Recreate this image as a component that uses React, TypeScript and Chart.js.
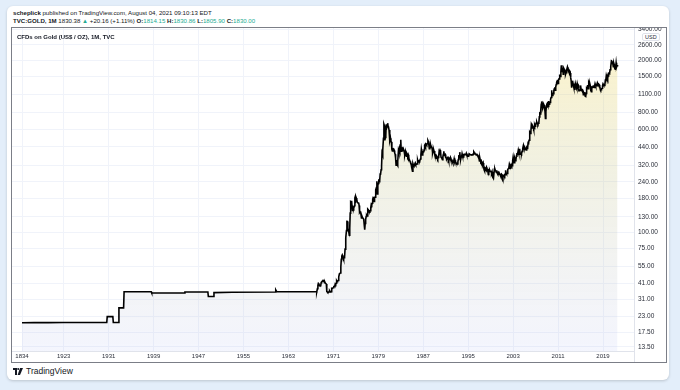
import React, { useEffect, useRef } from 'react';
import { Chart, registerables } from 'chart.js';

Chart.register(...registerables);

const FONT = '"Liberation Sans", Arial, sans-serif';

// ---- tick labels ----
const yearTickLabels = ['1834', '1923', '1931', '1939', '1947', '1955', '1963', '1971', '1979', '1987', '1995', '2003', '2011', '2019'];
const priceTicks = [13.5, 17.5, 23, 31, 41, 55, 75, 100, 130, 180, 240, 320, 440, 600, 800, 1100, 1500, 2000, 2600, 3400];

// ---- annual bars (1834-1922) ----
const annualYears = [1834, 1860, 1890, 1922];
const annualPrices = [20.6, 20.62, 20.65, 20.67];

// ---- sparse monthly bars (1923-1967) ----
const earlyMonths = [
  '1923-01', '1930-09', '1930-10', '1931-10', '1931-11', '1932-10', '1932-11', '1933-09', '1933-10',
  '1938-08', '1938-09', '1944-07', '1944-08', '1948-09', '1948-10', '1949-09', '1949-10', '1953-01',
  '1960-09', '1960-10', '1960-12', '1967-12',
];
const earlyPrices = [
  20.67, 20.67, 22.9, 22.9, 20.67, 20.67, 26.7, 26.7, 35.3,
  35.3, 34.6, 34.6, 35.2, 35.2, 32.5, 32.5, 34.8, 35.0,
  35.2, 36.5, 35.4, 35.3,
];

// ---- monthly closes 1968-01 .. 2021-08 ----
const monthlyFromYear = 1968;
const monthlyCloses = [
  35.2, 35.2, 37.3, 39.5, 41.0, 40.9, 39.4, 39.2, 39.2, 39.3, 41.4, 41.9, // 1968
  42.4, 42.6, 43.2, 43.3, 43.2, 41.3, 41.8, 41.0, 40.8, 40.4, 35.4, 35.2, // 1969
  34.9, 35.0, 35.1, 35.6, 35.9, 35.4, 35.3, 35.4, 36.2, 37.5, 37.4, 37.4, // 1970
  38.0, 38.7, 38.9, 39.0, 40.5, 40.1, 41.0, 42.7, 42.0, 42.5, 43.0, 43.6, // 1971
  45.8, 48.3, 48.3, 49.0, 54.6, 62.1, 65.7, 67.0, 65.5, 64.9, 62.9, 63.9, // 1972
  65.1, 74.2, 84.3, 90.5, 102.5, 120.1, 120.0, 106.8, 103.0, 100.1, 94.8, 106.7, // 1973
  139, 170, 169, 172, 155, 144, 154, 155, 151, 158, 181, 186, // 1974
  175, 181, 177, 168, 167, 166, 167, 159, 141, 143, 139, 140, // 1975
  128, 132, 129, 128, 126, 124, 113, 104, 116, 124, 131, 134, // 1976
  132, 142, 149, 147, 144, 141, 145, 145, 154, 162, 160, 165, // 1977
  176, 182, 181, 170, 183, 183, 200, 208, 217, 242, 194, 226, // 1978
  233, 251, 240, 245, 275, 277, 296, 315, 397, 382, 415, 512, // 1979
  653, 637, 494, 518, 535, 653, 614, 631, 666, 629, 619, 590, // 1980
  506, 489, 513, 482, 480, 422, 410, 426, 428, 427, 414, 397, // 1981
  387, 362, 320, 350, 325, 318, 342, 411, 397, 423, 410, 456, // 1982
  499, 408, 414, 430, 438, 412, 422, 414, 405, 382, 405, 382, // 1983
  374, 394, 388, 375, 384, 373, 347, 348, 341, 333, 329, 309, // 1984
  306, 288, 329, 321, 317, 317, 327, 333, 326, 325, 325, 327, // 1985
  350, 339, 345, 346, 343, 345, 357, 384, 423, 402, 383, 391, // 1986
  405, 406, 420, 454, 460, 448, 462, 454, 460, 466, 493, 484, // 1987
  458, 426, 457, 451, 452, 436, 437, 429, 397, 412, 422, 410, // 1988
  394, 387, 385, 377, 362, 373, 368, 359, 367, 375, 408, 401, // 1989
  415, 407, 368, 368, 363, 352, 372, 387, 408, 379, 384, 386, // 1990
  366, 363, 355, 357, 367, 368, 362, 347, 354, 358, 366, 353, // 1991
  354, 353, 344, 336, 337, 343, 357, 340, 349, 339, 334, 333, // 1992
  329, 327, 339, 354, 377, 378, 402, 372, 355, 369, 370, 391, // 1993
  378, 381, 391, 376, 387, 387, 384, 385, 394, 383, 383, 383, // 1994
  375, 376, 391, 389, 385, 387, 383, 382, 383, 383, 387, 387, // 1995
  405, 400, 396, 392, 390, 382, 385, 386, 379, 379, 371, 369, // 1996
  345, 362, 348, 340, 345, 334, 326, 325, 332, 311, 296, 290, // 1997
  304, 297, 301, 309, 293, 296, 288, 273, 294, 292, 294, 288, // 1998
  287, 287, 279, 286, 268, 261, 255, 255, 299, 300, 292, 290, // 1999
  283, 293, 278, 274, 272, 288, 276, 277, 273, 264, 270, 274, // 2000
  265, 267, 258, 264, 267, 270, 266, 273, 293, 279, 275, 277, // 2001
  282, 297, 302, 308, 326, 318, 304, 312, 323, 317, 317, 347, // 2002
  368, 347, 334, 336, 361, 346, 354, 375, 388, 386, 398, 416, // 2003
  400, 397, 426, 388, 394, 395, 391, 407, 416, 428, 453, 438, // 2004
  422, 434, 427, 436, 417, 435, 429, 433, 473, 470, 495, 513, // 2005
  568, 556, 582, 654, 643, 613, 633, 623, 599, 604, 646, 632, // 2006
  650, 665, 662, 680, 657, 650, 665, 673, 743, 789, 783, 834, // 2007
  924, 972, 916, 865, 887, 928, 912, 832, 884, 724, 815, 882, // 2008
  928, 942, 917, 891, 978, 926, 954, 955, 1008, 1040, 1182, 1096, // 2009
  1081, 1116, 1112, 1179, 1212, 1244, 1181, 1248, 1307, 1358, 1386, 1421, // 2010
  1332, 1411, 1439, 1556, 1536, 1502, 1628, 1826, 1620, 1715, 1746, 1565, // 2011
  1737, 1710, 1669, 1664, 1561, 1604, 1622, 1692, 1772, 1719, 1712, 1676, // 2012
  1663, 1578, 1596, 1472, 1394, 1234, 1313, 1395, 1327, 1323, 1250, 1202, // 2013
  1244, 1326, 1284, 1296, 1250, 1327, 1282, 1287, 1210, 1172, 1183, 1184, // 2014
  1284, 1213, 1183, 1184, 1190, 1172, 1095, 1133, 1115, 1142, 1065, 1061, // 2015
  1117, 1238, 1233, 1293, 1215, 1322, 1351, 1309, 1316, 1272, 1173, 1151, // 2016
  1211, 1248, 1249, 1268, 1268, 1242, 1269, 1322, 1280, 1271, 1275, 1303, // 2017
  1345, 1318, 1325, 1315, 1299, 1253, 1224, 1201, 1192, 1215, 1222, 1282, // 2018
  1321, 1313, 1292, 1283, 1305, 1409, 1413, 1520, 1472, 1513, 1464, 1517, // 2019
  1589, 1585, 1577, 1686, 1730, 1781, 1975, 1967, 1886, 1879, 1776, 1898, // 2020
  1847, 1734, 1707, 1769, 1906, 1770, 1814, 1830, // 2021
];

// bar index: yearly bars before 1923, monthly bars afterwards
function barIndex(year: number, month: number): number {
  const firstMonthlyYear = 1923;
  const annualBars = firstMonthlyYear - annualYears[0];
  if (year < firstMonthlyYear) return year - annualYears[0];
  return annualBars + (year - firstMonthlyYear) * 12 + (month - 1);
}

function buildPoints() {
  const pts: { x: number; y: number }[] = [];
  annualYears.forEach((y, i) => pts.push({ x: barIndex(y, 1), y: annualPrices[i] }));
  earlyMonths.forEach((d, i) => {
    const [yy, mm] = d.split('-').map(Number);
    pts.push({ x: barIndex(yy, mm), y: earlyPrices[i] });
  });
  monthlyCloses.forEach((v, i) => {
    pts.push({ x: barIndex(monthlyFromYear + Math.floor(i / 12), (i % 12) + 1), y: v });
  });
  return pts;
}

const sepPlugin = {
  id: 'sepExt',
  afterDraw(chart: any) {
    const { ctx, chartArea } = chart;
    ctx.save();
    ctx.strokeStyle = '#e0e3eb';
    ctx.lineWidth = 1;
    ctx.beginPath();
    const x = Math.round(chartArea.right) + 0.5;
    ctx.moveTo(x, chartArea.bottom);
    ctx.lineTo(x, chart.height);
    ctx.stroke();
    ctx.restore();
  },
};

function GoldChart() {
  const ref = useRef<HTMLCanvasElement | null>(null);
  useEffect(() => {
    if (!ref.current) return;
    const tickIdx = yearTickLabels.map((y) => barIndex(Number(y), 1));
    const chart = new Chart(ref.current, {
      type: 'line',
      data: {
        datasets: [
          {
            data: buildPoints(),
            borderColor: '#000000',
            borderWidth: 1.6,
            pointRadius: 0,
            tension: 0,
            fill: 'start',
            backgroundColor: (c: any) => {
              const a = c.chart.chartArea;
              if (!a) return 'transparent';
              const g = c.chart.ctx.createLinearGradient(0, a.top + 30, 0, a.bottom);
              g.addColorStop(0, 'rgba(240,215,90,0.3)');
              g.addColorStop(0.42, 'rgba(185,185,120,0.2)');
              g.addColorStop(1, 'rgba(180,190,245,0.15)');
              return g;
            },
          },
        ],
      },
      options: {
        animation: false,
        responsive: false,
        devicePixelRatio: 1,
        layout: { padding: 0 },
        plugins: { legend: { display: false }, tooltip: { enabled: false } },
        scales: {
          x: {
            type: 'linear',
            position: 'bottom',
            min: -21.4,
            max: 1307.2,
            grid: { color: '#f0f3fa', drawTicks: false, lineWidth: 1 },
            border: { display: true, color: '#e0e3eb' },
            ticks: {
              autoSkip: false,
              maxRotation: 0,
              padding: 2,
              color: '#2a2e39',
              font: { family: FONT, size: 6 },
              callback: (_v: any, i: number) => yearTickLabels[i],
            },
            afterBuildTicks: (s: any) => {
              s.ticks = tickIdx.map((v) => ({ value: v }));
            },
            afterFit: (s: any) => {
              s.height = 11;
              s.paddingLeft = 0;
              s.paddingRight = 0;
            },
          },
          y: {
            type: 'logarithmic',
            position: 'right',
            min: 12.59,
            max: 3492,
            grid: { color: '#f0f3fa', drawTicks: false, lineWidth: 1 },
            border: { display: true, color: '#e0e3eb' },
            ticks: {
              autoSkip: false,
              padding: 4,
              color: '#2a2e39',
              font: { family: FONT, size: 6.5 },
              callback: (v: any) => Number(v).toFixed(2),
            },
            afterBuildTicks: (s: any) => {
              s.ticks = priceTicks.map((v) => ({ value: v }));
            },
            afterFit: (s: any) => {
              s.width = 32;
              s.paddingTop = 0;
              s.paddingBottom = 0;
            },
          },
        },
      },
      plugins: [sepPlugin],
    } as any);
    return () => chart.destroy();
  }, []);
  return <canvas ref={ref} width={654} height={334} style={{ position: 'absolute', left: 0, top: 0, width: 654, height: 334 }} />;
}

const green = '#22ab94';

export default function App() {
  return (
    <div style={{ position: 'fixed', inset: 0, background: '#e3eefa', fontFamily: FONT }}>
      <div
        style={{
          position: 'absolute', left: 7, top: 6, width: 662, height: 374, background: '#ffffff',
          borderRadius: 6, boxShadow: '0 1px 3px rgba(0,0,0,0.18)',
        }}
      />
      <div style={{ position: 'absolute', left: 13, top: 8.5, fontSize: 6.1, lineHeight: '8px', color: '#131722', whiteSpace: 'nowrap' }}>
        <b>scheplick</b> published on TradingView.com, August 04, 2021 09:10:13 EDT
      </div>
      <div style={{ position: 'absolute', left: 13, top: 16.5, fontSize: 6.1, lineHeight: '8px', color: '#131722', whiteSpace: 'nowrap' }}>
        <b>TVC:GOLD, 1M</b> 1830.38 <span style={{ color: green }}>▲</span> +20.16 (+1.11%) <b>O:</b>
        <span style={{ color: green }}>1814.15</span> <b>H:</b><span style={{ color: green }}>1830.86</span> <b>L:</b>
        <span style={{ color: green }}>1805.90</span> <b>C:</b><span style={{ color: green }}>1830.00</span>
      </div>
      <div style={{ position: 'absolute', left: 11, top: 27, width: 654, height: 334, border: '1px solid #7b7e87', overflow: 'hidden' }}>
        <GoldChart />
        <div style={{ position: 'absolute', left: 5, top: 5.5, fontSize: 6, fontWeight: 600, color: '#131722', whiteSpace: 'nowrap' }}>
          CFDs on Gold (US$ / OZ), 1M, TVC
        </div>
        <div
          style={{
            position: 'absolute', left: 630, top: 5, fontSize: 5.5, lineHeight: '6px', padding: '0 2px',
            color: '#2a2e39', background: '#fff', border: '1px solid #e0e3eb', borderRadius: 2,
          }}
        >
          USD
        </div>
      </div>
      <div style={{ position: 'absolute', left: 13, top: 366, display: 'flex', alignItems: 'center', gap: 3 }}>
        <svg width="10" height="7" viewBox="0 0 10 7">
          <path d="M0 0h4v7h-2v-5h-2z" fill="#131722" />
          <circle cx="5.2" cy="1" r="1" fill="#131722" />
          <path d="M7 0h3l-3 7h-2.4z" fill="#131722" />
        </svg>
        <span style={{ fontSize: 8.5, color: '#131722', fontWeight: 500 }}>TradingView</span>
      </div>
    </div>
  );
}
